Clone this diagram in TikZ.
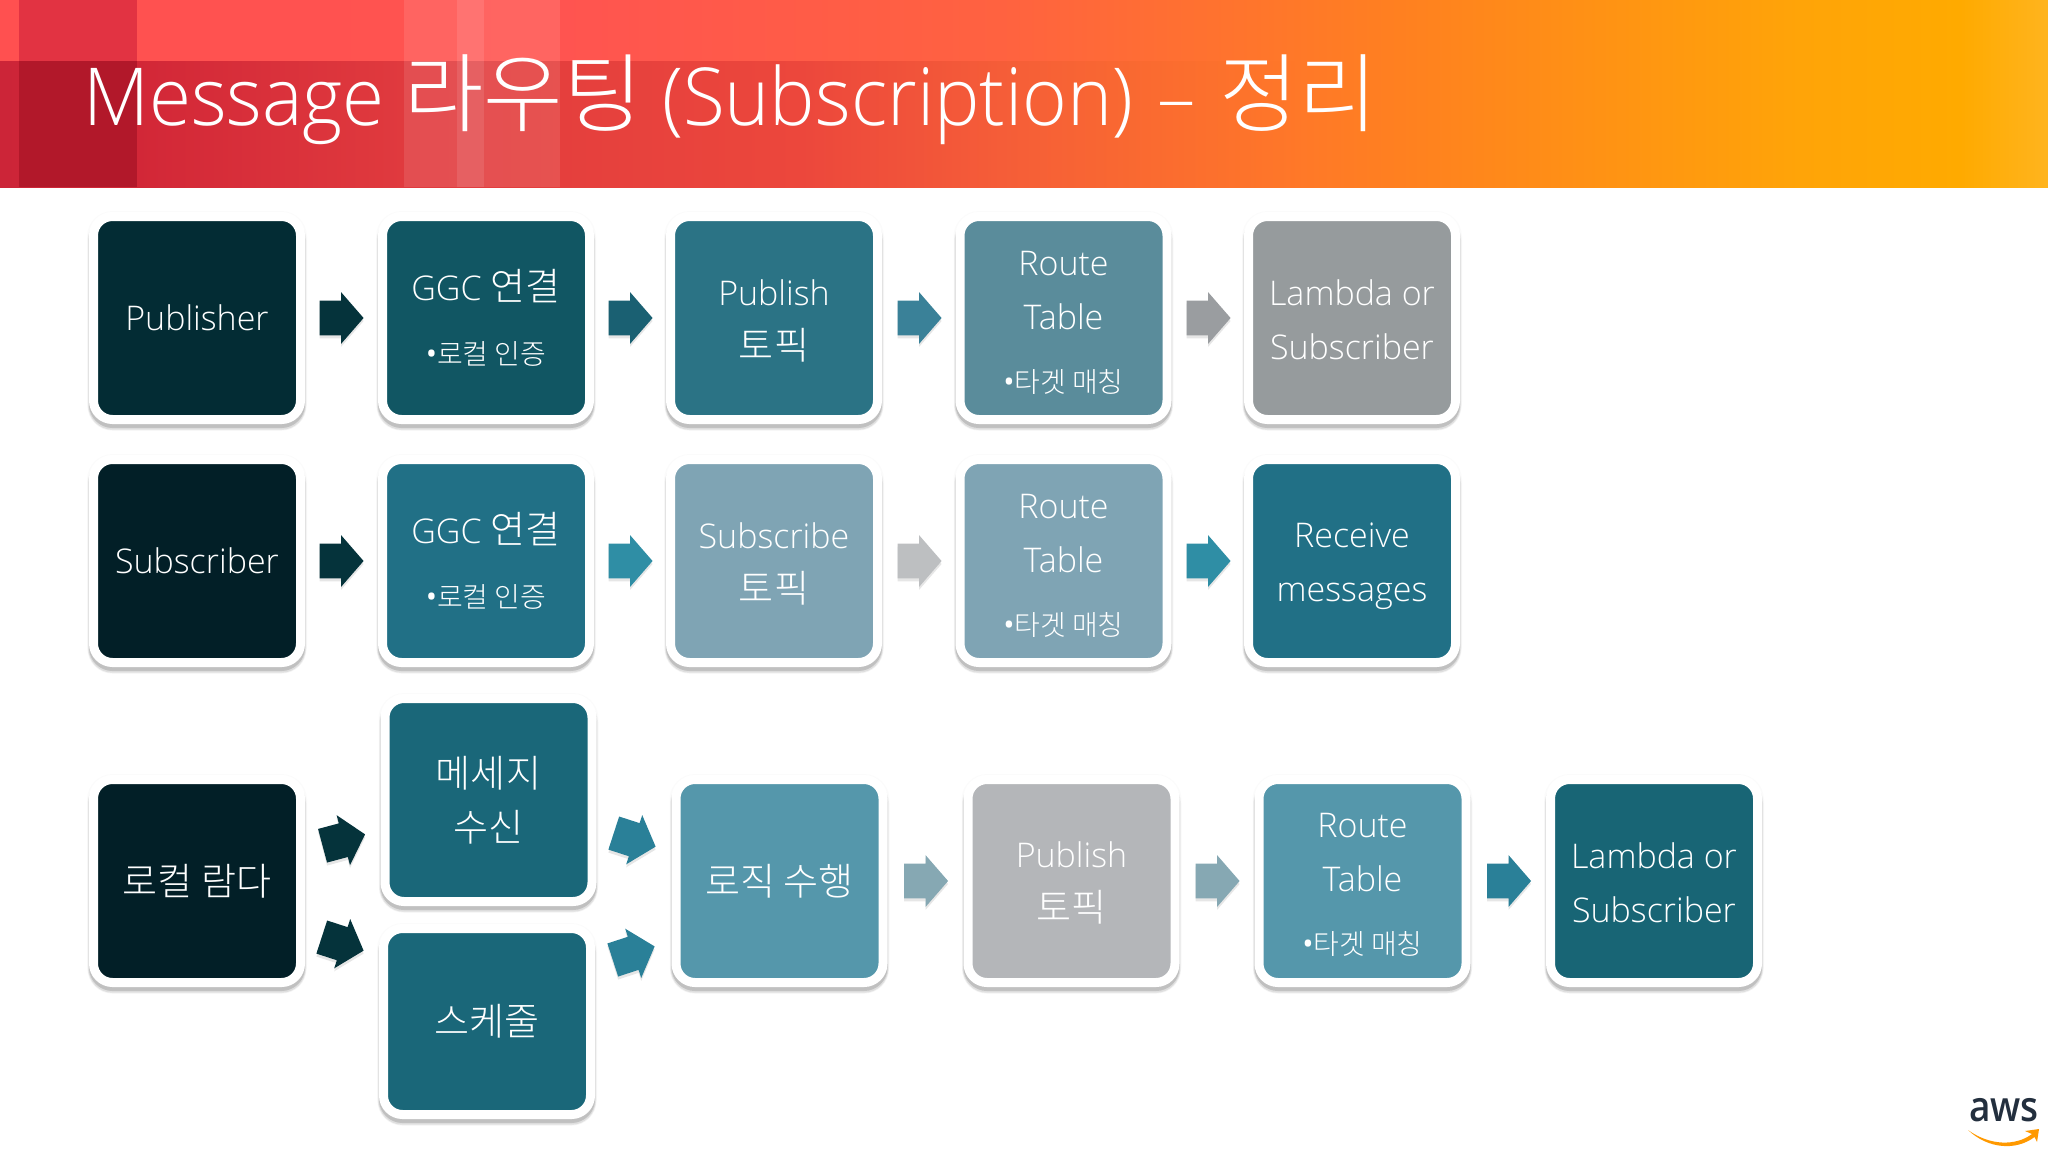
\documentclass[tikz,border=0pt]{standalone}
\usepackage{fontspec}
\setmainfont{Open Sans Light}
\newfontfamily\krfont[Scale=1.12]{Noto Sans CJK KR Light}
\newfontfamily\titlefont[FakeStretch=.955]{Open Sans Light}
\newfontfamily\dotfont{Open Sans}
\newfontfamily\awsfont{Open Sans Semibold}
\usetikzlibrary{shapes.arrows,shadows}
\definecolor{hdrA}{HTML}{FF5050}
\definecolor{hdrB}{HTML}{FF5450}
\definecolor{hdrC}{HTML}{FF6240}
\definecolor{hdrD}{HTML}{FF8020}
\definecolor{hdrE}{HTML}{FFA408}
\definecolor{hdrF}{HTML}{FFAA00}
\definecolor{hdrG}{HTML}{FFB41E}
\definecolor{lowA}{HTML}{CC2538}
\definecolor{lowB}{HTML}{D22737}
\definecolor{lowC}{HTML}{E03A3E}
\definecolor{lowD}{HTML}{EC473C}
\definecolor{lowE}{HTML}{F55D38}
\definecolor{lowF}{HTML}{FF7828}
\pgfdeclarehorizontalshading{hdrtop}{100bp}{color(0bp)=(hdrA); color(25bp)=(hdrA); color(38.67bp)=(hdrB); color(49.41bp)=(hdrC); color(59.18bp)=(hdrD); color(68.95bp)=(hdrE); color(72.85bp)=(hdrF); color(75bp)=(hdrG); color(100bp)=(hdrG)}
\pgfdeclarehorizontalshading{hdrlow}{100bp}{color(0bp)=(lowA); color(25bp)=(lowA); color(30.27bp)=(lowB); color(40.5bp)=(lowC); color(55.8bp)=(lowD); color(63.5bp)=(lowE); color(75bp)=(lowF); color(100bp)=(lowF)}
\definecolor{boxA}{HTML}{032C34}
\definecolor{boxB}{HTML}{115663}
\definecolor{boxC}{HTML}{2B7385}
\definecolor{boxD}{HTML}{5A8C9B}
\definecolor{boxE}{HTML}{969B9D}
\definecolor{boxF}{HTML}{021F27}
\definecolor{boxG}{HTML}{217086}
\definecolor{boxH}{HTML}{7FA4B4}
\definecolor{boxI}{HTML}{1A6779}
\definecolor{boxJ}{HTML}{5597AB}
\definecolor{boxK}{HTML}{B4B6B9}
\definecolor{boxL}{HTML}{186575}
\definecolor{arrA}{HTML}{05333B}
\definecolor{arrB}{HTML}{1A6072}
\definecolor{arrC}{HTML}{3A8198}
\definecolor{arrD}{HTML}{9A9DA0}
\definecolor{arrE}{HTML}{2F8EA5}
\definecolor{arrF}{HTML}{BDBFC1}
\definecolor{arrG}{HTML}{2A8098}
\definecolor{arrH}{HTML}{86A8B3}
\definecolor{awsink}{HTML}{232F3E}
\definecolor{awsorange}{HTML}{FF9900}
\newcommand{\kr}[1]{{\krfont #1}}
\newcommand{\topgap}[1]{\rule{0pt}{#1}}
\newcommand{\bulletline}[1]{{\fontsize{12.5}{14}\selectfont{\dotfont\fontsize{15}{14}\selectfont\textbullet}\kr{#1}}}
\tikzset{
	card/.style={rectangle,rounded corners=9.5pt,draw=white,line width=4.5pt,fill=#1,
		minimum width=103.5pt,minimum height=101.5pt,inner sep=0pt,text=white,align=center,
		font=\fontsize{17}{27}\selectfont,
		general shadow={shadow yshift=-.5pt,fill=none,draw=black!60,draw opacity=.025,line width=6.5pt},
		general shadow={shadow yshift=-2.5pt,fill=none,draw=black!60,draw opacity=.08,line width=6pt},
		general shadow={shadow yshift=-2.5pt,fill=none,draw=black!60,draw opacity=.14,line width=5.2pt},
		general shadow={shadow yshift=-2pt,fill=none,draw=black!60,draw opacity=.24,line width=4.5pt}},
	flowarrow/.style={single arrow,minimum height=22pt,minimum width=25.5pt,inner xsep=0pt,inner ysep=8.5pt,
		single arrow head extend=4.25pt,single arrow tip angle=98,fill=#1,draw=none,
		general shadow={shadow yshift=-1.5pt,fill=black!50,opacity=.2}}
}
\begin{document}
\begin{tikzpicture}[x=0.5pt,y=-0.5pt]
\useasboundingbox (0,0) rectangle (2048,1152);
\fill[shading=hdrtop] (0,0) rectangle (2048,187);
\fill[shading=hdrlow] (0,61) rectangle (1300,187);
\fill[color={rgb,255:red,226;green,51;blue,66}] (19,0) rectangle (137,61);
\fill[color={rgb,255:red,178;green,24;blue,42}] (19,61) rectangle (137,187);
\fill[white,opacity=.1] (404,0) rectangle (560,187);
\fill[white,opacity=.1] (457,0) rectangle (484,187);
\node[anchor=base west,inner sep=0pt,text=white,font=\titlefont\fontsize{40}{40}\selectfont] (title) at (83,125) {Message {\fontsize{38.5}{40}\selectfont\kr{라우팅}} (Subscription) \kern2pt–\kern2pt\ {\fontsize{38.5}{40}\selectfont\kr{정리}}};
\node[card=boxA] (pub) at (197,318) {Publisher};
\node[card=boxB] (ggcA) at (486,318) {GGC \kr{연결}\\[5pt]\bulletline{로컬 인증}};
\node[card=boxC] (pubTopic) at (774,318) {\topgap{16pt}Publish\\\kr{토픽}};
\node[card=boxD] (routeA) at (1063.5,318) {\topgap{17pt}Route\\Table\\[4.5pt]\bulletline{타겟 매칭}};
\node[card=boxE] (lambdaA) at (1352,318) {\topgap{15pt}Lambda or\\Subscriber};
\node[card=boxF] (sub) at (197,561) {Subscriber};
\node[card=boxG] (ggcB) at (486,561) {GGC \kr{연결}\\[5pt]\bulletline{로컬 인증}};
\node[card=boxH] (subTopic) at (774,561) {\topgap{16pt}Subscribe\\\kr{토픽}};
\node[card=boxH] (routeB) at (1063.5,561) {\topgap{17pt}Route\\Table\\[4.5pt]\bulletline{타겟 매칭}};
\node[card=boxG] (recv) at (1352,561) {\topgap{18pt}Receive\\messages};
\node[card=boxF] (local) at (197,881) {\kr{로컬 람다}};
\node[card=boxI] (msg) at (488.5,800) {\kr{메세지}\\\kr{수신}};
\node[card=boxI,minimum height=93pt] (sched) at (487,1021.5) {\kr{스케줄}};
\node[card=boxJ] (logic) at (779.5,881) {\kr{로직 수행}};
\node[card=boxK] (pubLocal) at (1071.5,881) {\topgap{15pt}Publish\\\kr{토픽}};
\node[card=boxJ] (routeC) at (1362.5,881) {\topgap{16pt}Route\\Table\\[4.5pt]\bulletline{타겟 매칭}};
\node[card=boxL] (lambdaB) at (1654,881) {\topgap{15pt}Lambda or\\Subscriber};
\foreach \n/\x/\y/\c/\r in {a1/334/318/arrA/0,a2/623/318/arrB/0,a3/912/318/arrC/0,a4/1201/318/arrD/0,
	b1/334/561/arrA/0,b2/623/561/arrE/0,b3/912/561/arrF/0,b4/1201/561/arrE/0,
	c1/336.5/842/arrA/15,c2/335.5/941.5/arrA/-18,c3/627.5/837.5/arrG/-18,c4/626.5/955.5/arrG/18,
	c5/918.5/881/arrH/0,c6/1210/881/arrH/0,c7/1501.5/881/arrG/0}
	\node[flowarrow=\c,rotate=\r] (\n) at (\x,\y) {};
\node[inner sep=0pt,xscale=.88,text=awsink,font=\awsfont\fontsize{21}{21}\selectfont] (aws) at (2004,1110) {aws};
\fill[awsorange] (1968,1130) .. controls (1990,1146) and (2016,1146) .. (2032,1134)
	-- (2025,1131) -- (2039,1129) -- (2037,1142) -- (2034.5,1137) .. controls (2016,1151) and (1988,1149) .. cycle;
\end{tikzpicture}
\end{document}
